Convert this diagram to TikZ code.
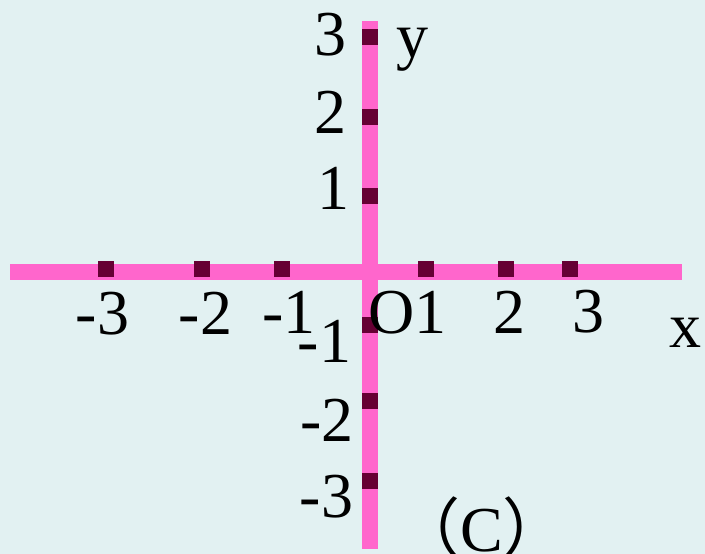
\documentclass[tikz,border=0pt]{standalone}
\usepackage{fontspec}
\setmainfont{Liberation Serif}
\newfontfamily\cjk{Noto Sans CJK SC}
\definecolor{bgc}{RGB}{226,241,242}
\definecolor{axispink}{RGB}{255,102,204}
\definecolor{tickc}{RGB}{102,0,51}
\begin{document}
\begin{tikzpicture}[x=1pt,y=-1pt,
  axisline/.style={draw=axispink,line width=16pt},
  tickbox/.style={rectangle,fill=tickc,minimum width=16pt,minimum height=16pt,inner sep=0pt},
  lbl/.style={anchor=base,inner sep=0pt,font=\fontsize{64}{64}\selectfont}]
\fill[bgc] (0,0) rectangle (705,554);
\useasboundingbox (0,0) rectangle (705,554);
% axes
\coordinate (xl) at (10,272);
\coordinate (xr) at (682,272);
\coordinate (yt) at (370,21);
\coordinate (yb) at (370,549);
\draw[axisline] (xl) -- (xr);
\draw[axisline] (yt) -- (yb);
% ticks on x axis
\foreach \n/\x in {xm3/106,xm2/202,xm1/282,xp1/426,xp2/506,xp3/570}
  \node[tickbox] (\n) at (\x,269) {};
% ticks on y axis
\foreach \n/\y in {yp3/37,yp2/117,yp1/196,ym1/325,ym2/401,ym3/481}
  \node[tickbox] (\n) at (370,\y) {};
% x labels
\node[lbl] (lxm3) at (102.5,334) {-3};
\node[lbl] (lxm2) at (205.5,334) {-2};
\node[lbl] (lxm1) at (289,333) {-1};
\node[lbl] (lO1) at (407.5,333) {O1};
\node[lbl] (lxp2) at (509,333) {2};
\node[lbl] (lxp3) at (588.5,332) {3};
\node[lbl] (lx) at (685,347) {x};
% y labels
\node[lbl] (lyp3) at (330.5,56) {3};
\node[lbl] (ly) at (412.5,57) {y};
\node[lbl] (lyp2) at (330.5,133) {2};
\node[lbl] (lyp1) at (333,209) {1};
\node[lbl] (lym1) at (324.5,362) {-1};
\node[lbl] (lym2) at (327,441) {-2};
\node[lbl] (lym3) at (326.5,517) {-3};
% caption
\node[lbl] (cap) at (481.5,551) {{\cjk （}C{\cjk ）}};
\end{tikzpicture}
\end{document}
